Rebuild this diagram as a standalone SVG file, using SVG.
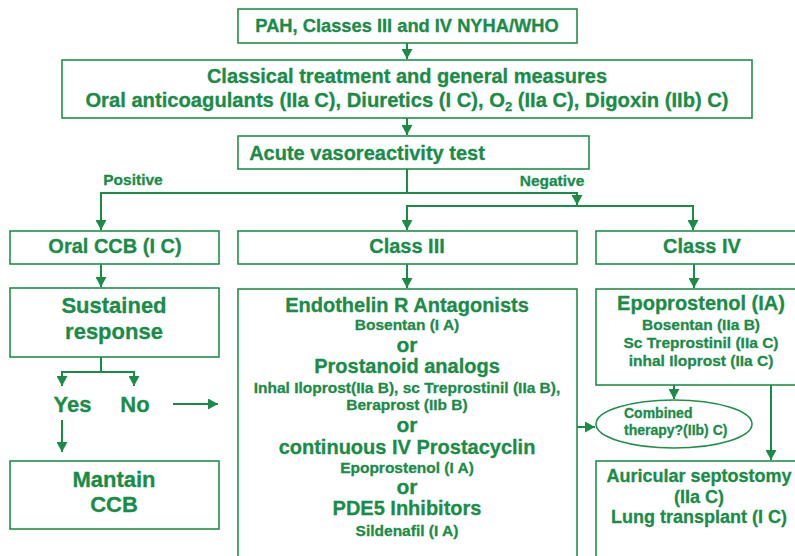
<svg xmlns="http://www.w3.org/2000/svg" width="795" height="556" viewBox="0 0 795 556">
<style>
.box{fill:#fff;stroke:#1f8f4c;stroke-width:1.6}
.ln{fill:none;stroke:#1a8c47;stroke-width:2}
text{font-family:"Liberation Sans",Arial,sans-serif;font-weight:bold;fill:#1a8c47;text-anchor:middle;stroke:#1a8c47;stroke-width:0.3}
.s{font-size:15.5px}
.m{font-size:20px}
.l{font-size:22px}
.or{font-size:21px}
</style>
<defs>
<marker id="ah" markerUnits="userSpaceOnUse" markerWidth="11" markerHeight="11" refX="10" refY="5.5" orient="auto">
<path d="M0,0 L10,5.5 L0,11 z" fill="#1a8c47"/>
</marker>
</defs>
<rect width="795" height="556" fill="#fff"/>
<g id="connectors">
<path class="ln" d="M407,43 L407,59" marker-end="url(#ah)"/>
<path class="ln" d="M407,118 L407,135" marker-end="url(#ah)"/>
<path class="ln" d="M407,169 L407,193 L101,193 L101,230" marker-end="url(#ah)"/>
<path class="ln" d="M407,193 L577,193 L577,205" marker-end="url(#ah)"/>
<path class="ln" d="M577,206 L407,206 L407,230" marker-end="url(#ah)"/>
<path class="ln" d="M577,206 L693,206 L693,230" marker-end="url(#ah)"/>
<path class="ln" d="M407,264 L407,288" marker-end="url(#ah)"/>
<path class="ln" d="M694,264 L694,288" marker-end="url(#ah)"/>
<path class="ln" d="M101,264 L101,287" marker-end="url(#ah)"/>
<path class="ln" d="M101,357 L101,372 L62,372 L62,386" marker-end="url(#ah)"/>
<path class="ln" d="M101,372 L134,372 L134,386" marker-end="url(#ah)"/>
<path class="ln" d="M62,420 L62,452" marker-end="url(#ah)"/>
<path class="ln" d="M173,404 L218,404" marker-end="url(#ah)"/>
<path class="ln" d="M577,427 L595,427" marker-end="url(#ah)"/>
<path class="ln" d="M674,385 L674,399" marker-end="url(#ah)"/>
<path class="ln" d="M771,385 L771,460" marker-end="url(#ah)"/>
<text class="s" x="133" y="185">Positive</text>
<text class="s" x="552" y="186">Negative</text>
</g>
<g id="pah">
<rect class="box" x="238" y="9" width="339" height="34"/>
<text x="407" y="32" font-size="18.3">PAH, Classes III and IV NYHA/WHO</text>
</g>
<g id="classical">
<rect class="box" x="62" y="60" width="690" height="58"/>
<text class="m" x="407" y="83">Classical treatment and general measures</text>
<text x="407" y="107" font-size="20.2">Oral anticoagulants (IIa C), Diuretics (I C), O<tspan font-size="13" dy="4">2</tspan><tspan dy="-4"> (IIa C), Digoxin (IIb) C)</tspan></text>
</g>
<g id="acute">
<rect class="box" x="238" y="136" width="351" height="33"/>
<text class="m" x="367" y="160">Acute vasoreactivity test</text>
</g>
<g id="oralccb">
<rect class="box" x="10" y="231" width="209" height="33"/>
<text class="m" x="115" y="253">Oral CCB (I C)</text>
</g>
<g id="sustained">
<rect class="box" x="10" y="288" width="209" height="69"/>
<text class="l" x="114" y="313">Sustained</text>
<text class="l" x="114" y="339">response</text>
</g>
<g id="yesno">
<text class="l" x="72.5" y="412">Yes</text>
<text class="l" x="135" y="412">No</text>
</g>
<g id="mantain">
<rect class="box" x="10" y="461" width="209" height="68"/>
<text class="l" x="114" y="487">Mantain</text>
<text class="l" x="114" y="512">CCB</text>
</g>
<g id="class3">
<rect class="box" x="238" y="231" width="339" height="33"/>
<text class="m" x="407" y="253">Class III</text>
</g>
<g id="class3box">
<rect class="box" x="238" y="289" width="339" height="290"/>
<text class="m" x="407" y="312">Endothelin R Antagonists</text>
<text class="s" x="407" y="330">Bosentan (I A)</text>
<text class="or" x="407" y="352">or</text>
<text class="m" x="407" y="373">Prostanoid analogs</text>
<text class="s" x="407" y="393">Inhal Iloprost(IIa B), sc Treprostinil (IIa B),</text>
<text class="s" x="407" y="410">Beraprost (IIb B)</text>
<text class="or" x="407" y="432">or</text>
<text class="m" x="407" y="454">continuous IV Prostacyclin</text>
<text class="s" x="407" y="473">Epoprostenol (I A)</text>
<text class="or" x="407" y="494">or</text>
<text class="m" x="407" y="515">PDE5 Inhibitors</text>
<text class="s" x="407" y="536">Sildenafil (I A)</text>
</g>
<g id="class4">
<rect class="box" x="596" y="231" width="220" height="33"/>
<text class="m" x="702" y="253">Class IV</text>
</g>
<g id="class4box">
<rect class="box" x="596" y="289" width="220" height="96"/>
<text class="m" x="701" y="310">Epoprostenol (IA)</text>
<text class="s" x="701" y="330">Bosentan (IIa B)</text>
<text class="s" x="701" y="348">Sc Treprostinil (IIa C)</text>
<text class="s" x="701" y="366">inhal Iloprost (IIa C)</text>
</g>
<g id="combined">
<ellipse class="box" cx="674" cy="424" rx="78" ry="24"/>
<text x="624" y="418" font-size="14" style="text-anchor:start">Combined</text>
<text x="624" y="435" font-size="14" style="text-anchor:start">therapy?(IIb) C)</text>
</g>
<g id="auricular">
<rect class="box" x="596" y="461" width="220" height="110"/>
<text x="699" y="482" font-size="18">Auricular septostomy</text>
<text x="699" y="503" font-size="18">(IIa C)</text>
<text x="699" y="523" font-size="18">Lung transplant (I C)</text>
</g>
</svg>
